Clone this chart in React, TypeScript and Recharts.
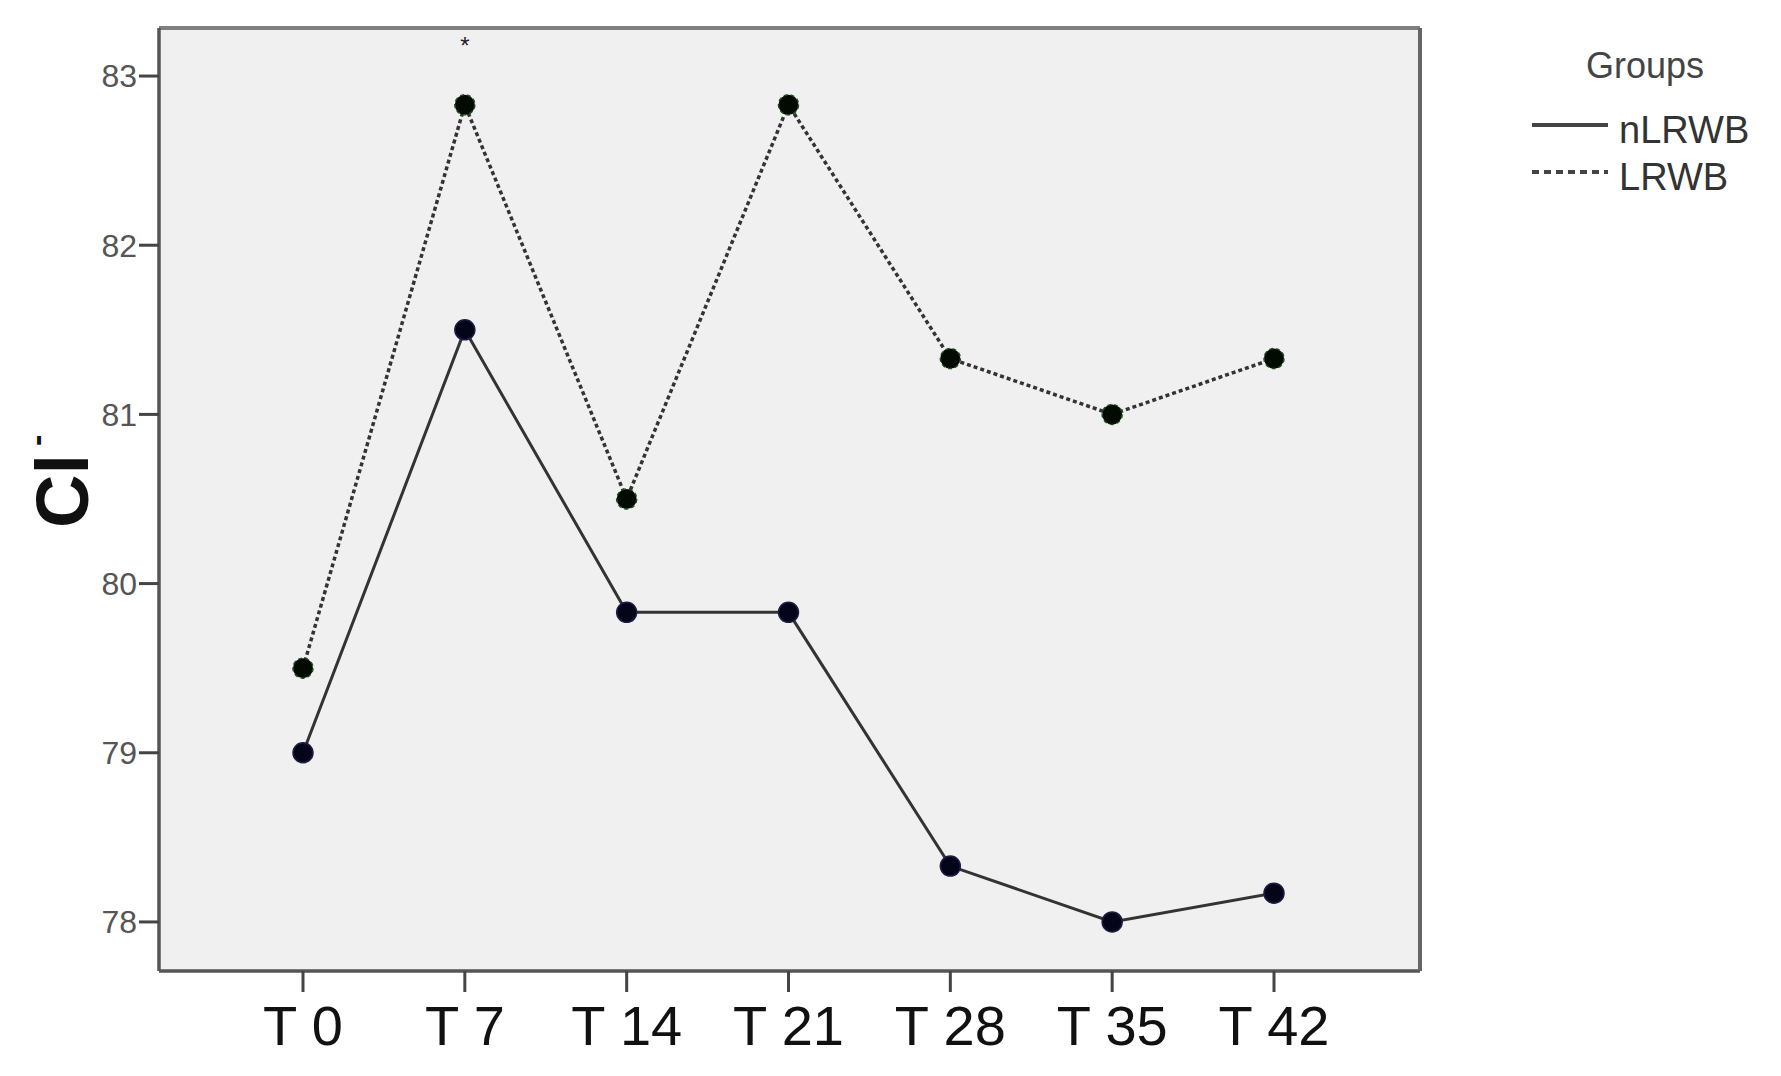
import {
  LineChart,
  Line,
  XAxis,
  YAxis,
  CartesianGrid,
  Legend,
} from 'recharts';

const categories = ['T 0', 'T 7', 'T 14', 'T 21', 'T 28', 'T 35', 'T 42'];
const nlrwbValues = [79, 81.5, 79.83, 79.83, 78.33, 78, 78.17];
const lrwbValues = [79.5, 82.83, 80.5, 82.83, 81.33, 81, 81.33];
const starValues = [null, 83.2, null, null, null, null, null];
const yTicks = [78, 79, 80, 81, 82, 83];
const yDomain = [77.71, 83.284];
const seriesOrder = ['nLRWB', 'LRWB'];

const FONT = '"Liberation Sans", Arial, sans-serif';

// legend line styles per group name
const legendStyles: Record<string, { dash?: string }> = {
  nLRWB: {},
  LRWB: { dash: '7 5' },
};

const data = categories.map((c, i) => ({
  time: c,
  nLRWB: nlrwbValues[i],
  LRWB: lrwbValues[i],
  star: starValues[i],
}));

function StarDot(props: any) {
  const { cx, cy, index } = props;
  if (cy == null || Number.isNaN(cy)) return <g key={`s-${index}`} />;
  return (
    <text key={`s-${index}`} x={cx} y={cy + 12} textAnchor="middle" fontSize={24} fill="#222" fontFamily={FONT}>
      *
    </text>
  );
}

function YLabel() {
  const x = 88;
  const y = 528;
  return (
    <text
      x={x}
      y={y}
      transform={`rotate(-90, ${x}, ${y})`}
      fontFamily={FONT}
      fontWeight="bold"
      fontSize={74}
      fill="#111"
    >
      Cl
      <tspan fontSize={34} dx={8} dy={-40} fontWeight="bold">
        -
      </tspan>
    </text>
  );
}

function GroupsLegend({ payload }: any) {
  const items = (payload || [])
    .filter((p: any) => seriesOrder.includes(p.value))
    .sort((a: any, b: any) => seriesOrder.indexOf(a.value) - seriesOrder.indexOf(b.value));
  return (
    <div style={{ fontFamily: FONT, color: '#444', width: 240 }}>
      <div style={{ textAlign: 'center', fontSize: 36, lineHeight: '36px', height: 36 }}>Groups</div>
      <div style={{ height: 27 }} />
      {items.map((p: any) => (
        <div key={p.value} style={{ display: 'flex', height: 47, alignItems: 'flex-start' }}>
          <svg width={86} height={38} style={{ marginLeft: 7 }}>
            <line
              x1={0}
              x2={76}
              y1={14}
              y2={14}
              stroke="#444"
              strokeWidth={4}
              strokeDasharray={legendStyles[p.value]?.dash}
            />
          </svg>
          <span style={{ fontSize: 38, lineHeight: '38px', color: '#333', marginLeft: 1 }}>{p.value}</span>
        </div>
      ))}
    </div>
  );
}

export default function App() {
  return (
    <div style={{ position: 'absolute', left: 0, top: 0, background: '#fff' }}>
      <LineChart
        width={1781}
        height={1076}
        data={data}
        margin={{ top: 27, right: 360, bottom: 25, left: 59 }}
      >
        <CartesianGrid horizontal={false} vertical={false} fill="#f0f0f0" />
        <XAxis
          dataKey="time"
          padding={{ left: 144, right: 146 }}
          axisLine={{ stroke: '#555', strokeWidth: 3.5 }}
          tickLine={{ stroke: '#444', strokeWidth: 3 }}
          tickSize={21}
          tickMargin={13}
          interval={0}
          height={80}
          tick={{ fontSize: 56, fill: '#111', fontFamily: FONT }}
        />
        <XAxis
          xAxisId="top"
          orientation="top"
          dataKey="time"
          height={1}
          tick={false}
          tickLine={false}
          axisLine={{ stroke: '#808080', strokeWidth: 4 }}
        />
        <YAxis
          domain={yDomain}
          ticks={yTicks}
          allowDataOverflow
          width={100}
          axisLine={{ stroke: '#555', strokeWidth: 3.5 }}
          tickLine={{ stroke: '#444', strokeWidth: 3 }}
          tickSize={20}
          tickMargin={2}
          tick={{ fontSize: 32, fill: '#555', fontFamily: FONT }}
          label={YLabel}
        />
        <YAxis
          yAxisId="right"
          orientation="right"
          domain={yDomain}
          allowDataOverflow
          width={1}
          tick={false}
          tickLine={false}
          axisLine={{ stroke: '#666', strokeWidth: 4 }}
        />
        <Legend
          layout="horizontal"
          verticalAlign="middle"
          align="center"
          content={GroupsLegend}
          wrapperStyle={{ left: 1525, top: 48, width: 240 }}
        />
        <Line
          dataKey="nLRWB"
          name="nLRWB"
          type="linear"
          stroke="#333"
          strokeWidth={3}
          dot={{ r: 10, fill: '#05051a', stroke: '#1c1c44', strokeWidth: 1.5 }}
          isAnimationActive={false}
        />
        <Line
          dataKey="LRWB"
          name="LRWB"
          type="linear"
          stroke="#333"
          strokeWidth={3.5}
          strokeDasharray="4 3"
          dot={{ r: 10, fill: '#020a02', stroke: '#1e4d1e', strokeWidth: 1.5 }}
          isAnimationActive={false}
        />
        <Line
          dataKey="star"
          name="star"
          stroke="none"
          legendType="none"
          dot={StarDot}
          connectNulls={false}
          isAnimationActive={false}
        />
      </LineChart>
    </div>
  );
}
